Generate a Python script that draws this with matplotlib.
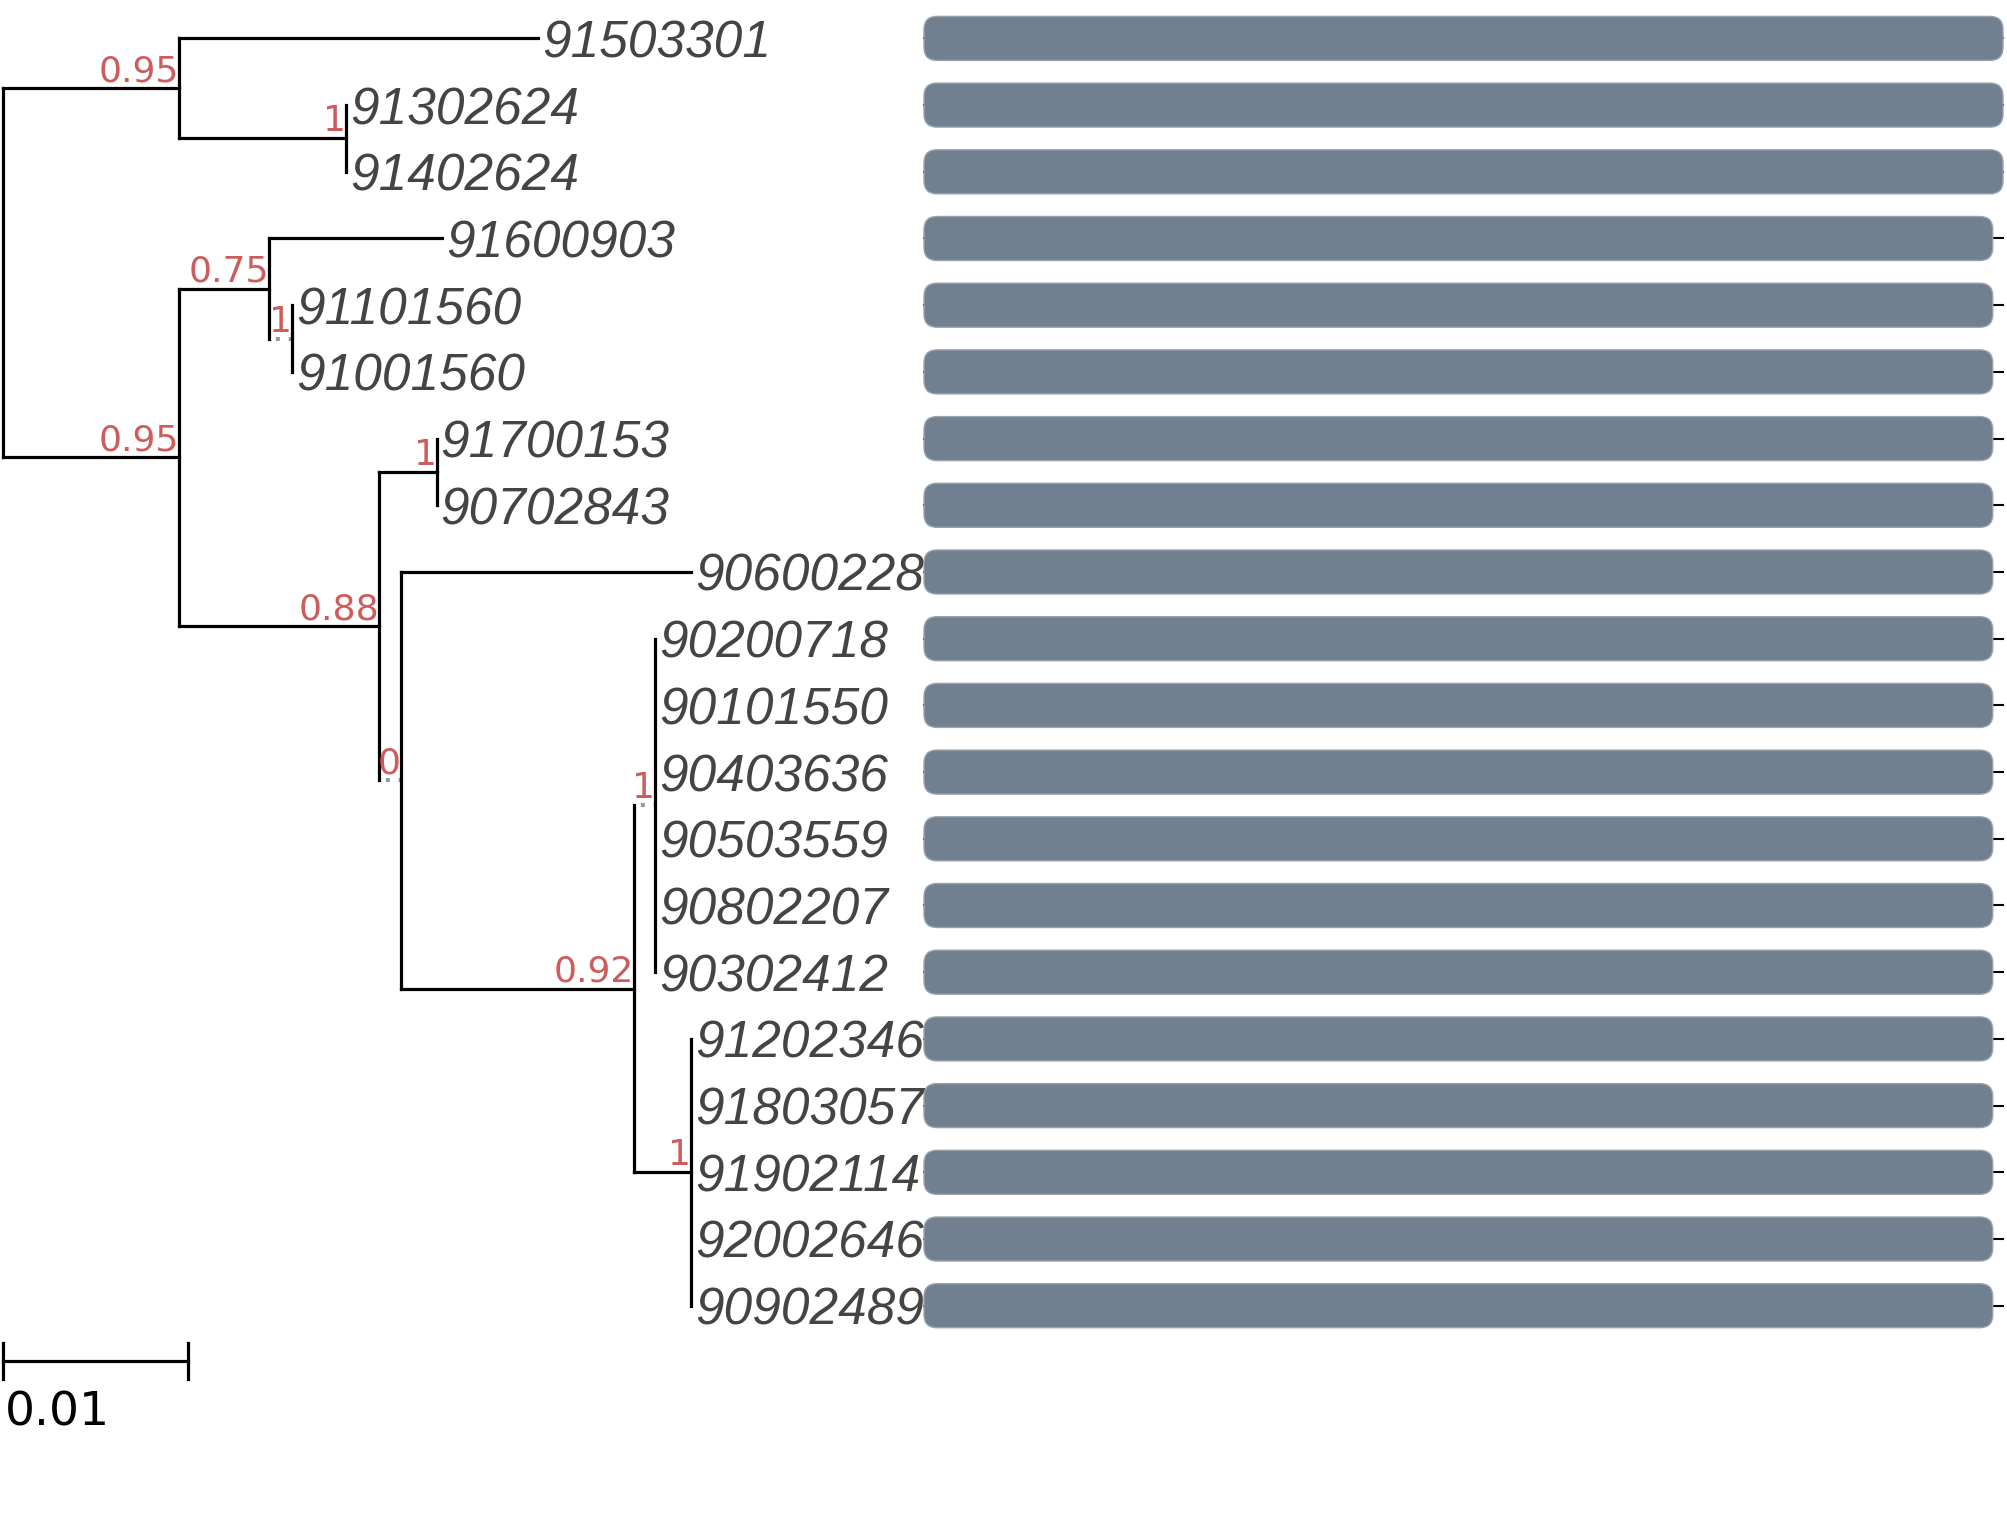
import numpy as np
import matplotlib
matplotlib.use('Agg')
import matplotlib.pyplot as plt
from matplotlib.patches import FancyBboxPatch

# nós internos: pai, comprimento do ramo e suporte
node_ids = ['n0', 'n1', 'n2', 'n3', 'n4', 'n5', 'n6', 'n7', 'n8', 'n9', 'n10', 'n11']
node_parent = [None, 'n0', 'n1', 'n0', 'n3', 'n4', 'n3', 'n6', 'n6', 'n8', 'n9', 'n9']
node_len = [0.0, 0.00952, 0.00896, 0.00952, 0.00482, 0.00125, 0.01076,
            0.00310, 0.00117, 0.01255, 0.00117, 0.00310]
node_support = [None, 0.95, 1, 0.95, 0.75, 1, 0.88, 1, 0, 0.92, 1, 1]
dotted_nodes = ['n5', 'n8', 'n10']

# folhas, de cima para baixo
tip_labels = ['91503301', '91302624', '91402624', '91600903', '91101560',
              '91001560', '91700153', '90702843', '90600228', '90200718',
              '90101550', '90403636', '90503559', '90802207', '90302412',
              '91202346', '91803057', '91902114', '92002646', '90902489']
tip_parent = ['n1', 'n2', 'n2', 'n4', 'n5', 'n5', 'n7', 'n7', 'n8',
              'n10', 'n10', 'n10', 'n10', 'n10', 'n10',
              'n11', 'n11', 'n11', 'n11', 'n11']
tip_len = [0.01931, 0, 0, 0.00932, 0, 0, 0, 0, 0.01565,
           0, 0, 0, 0, 0, 0, 0, 0, 0, 0, 0]

# barras da direita (posições na sequência)
seq_len = 1686
bar_start = [0] * 20
bar_end = [1686, 1686, 1686] + [1670] * 17

scale_len = 0.01

W, H, DPI = 2007, 1529, 100
fig = plt.figure(figsize=(W / DPI, H / DPI), dpi=DPI)

# layout em pixels
leaf1_px, leaf_step = 38.4, 66.7
root_px, px_per_unit = 2.6, 18560.0
bar_left_px, bar_right_px = 924.0, 2003.0

ylim = (1 + (H - leaf1_px) / leaf_step, 1 - leaf1_px / leaf_step)

ax = fig.add_axes([0, 0, 1, 1])
ax.set_xlim(-root_px / px_per_unit, (W - root_px) / px_per_unit)
ax.set_ylim(*ylim)
ax.axis('off')

# coordenadas da árvore
parent = dict(zip(node_ids, node_parent))
length = dict(zip(node_ids, node_len))
for lab, p, l in zip(tip_labels, tip_parent, tip_len):
    parent[lab] = p
    length[lab] = l

xpos = {}
def get_x(n):
    if n not in xpos:
        p = parent[n]
        xpos[n] = length[n] + (get_x(p) if p is not None else 0.0)
    return xpos[n]

children = {n: [] for n in node_ids}
for n in node_ids[1:] + tip_labels:
    children[parent[n]].append(n)

ypos = {lab: i + 1 for i, lab in enumerate(tip_labels)}
def get_y(n):
    if n not in ypos:
        ypos[n] = np.mean([get_y(c) for c in children[n]])
    return ypos[n]

for n in node_ids + tip_labels:
    get_x(n)
    get_y(n)

lw = 2.3
for n in node_ids[1:] + tip_labels:
    p = parent[n]
    if n in dotted_nodes:
        ax.plot([xpos[p], xpos[n]], [ypos[n], ypos[n]], color='#999999',
                lw=lw + 0.6, linestyle=(1.5, (1, 2.2)), dash_capstyle='butt')
    else:
        ax.plot([xpos[p], xpos[n]], [ypos[n], ypos[n]], color='black',
                lw=lw, solid_capstyle='projecting')

for n in node_ids:
    ys = [ypos[c] for c in children[n]]
    ax.plot([xpos[n], xpos[n]], [min(ys), max(ys)], color='black',
            lw=lw, solid_capstyle='projecting')

# valores de suporte
for n, s in zip(node_ids, node_support):
    if s is None:
        continue
    ax.text(xpos[n], ypos[n], f"{s:g}", ha='right', va='bottom',
            fontsize=26, color='#CD5C5C', family='DejaVu Sans')

# rótulos das folhas
for lab in tip_labels:
    ax.annotate(lab, (xpos[lab], ypos[lab]), xytext=(3, 0),
                textcoords='offset points', ha='left', va='center_baseline',
                fontsize=37, style='italic', color='#444444',
                family='Liberation Sans')

# barra de escala
ys = len(tip_labels) + 0.83
ax.plot([0, scale_len], [ys, ys], color='black', lw=lw)
for xx in [0, scale_len]:
    ax.plot([xx, xx], [ys - 0.27, ys + 0.27], color='black', lw=lw)
ax.text(0.0001, ys + 0.78, f"{scale_len:g}", ha='left', va='center',
        fontsize=34, color='black', family='DejaVu Sans')

# painel das barras
axb = fig.add_axes([bar_left_px / W, 0, (bar_right_px - bar_left_px) / W, 1])
axb.set_xlim(0, seq_len)
axb.set_ylim(*ylim)
axb.axis('off')
axb.patch.set_alpha(0)

x_per_px = seq_len / (bar_right_px - bar_left_px)
y_per_px = (ylim[0] - ylim[1]) / H
bar_h = 0.66
for i, (b0, b1) in enumerate(zip(bar_start, bar_end)):
    y = i + 1
    axb.plot([0, seq_len], [y, y], color='black', lw=1.5, zorder=1,
             clip_on=False)
    box = FancyBboxPatch((b0, y - bar_h / 2), b1 - b0, bar_h,
                         boxstyle=f"round,pad=0,rounding_size={13 * x_per_px}",
                         mutation_aspect=y_per_px / x_per_px,
                         facecolor='#708090', edgecolor='#9aa3ad', lw=1,
                         zorder=2, clip_on=False)
    axb.add_patch(box)

fig.savefig('out.png', dpi=DPI)
